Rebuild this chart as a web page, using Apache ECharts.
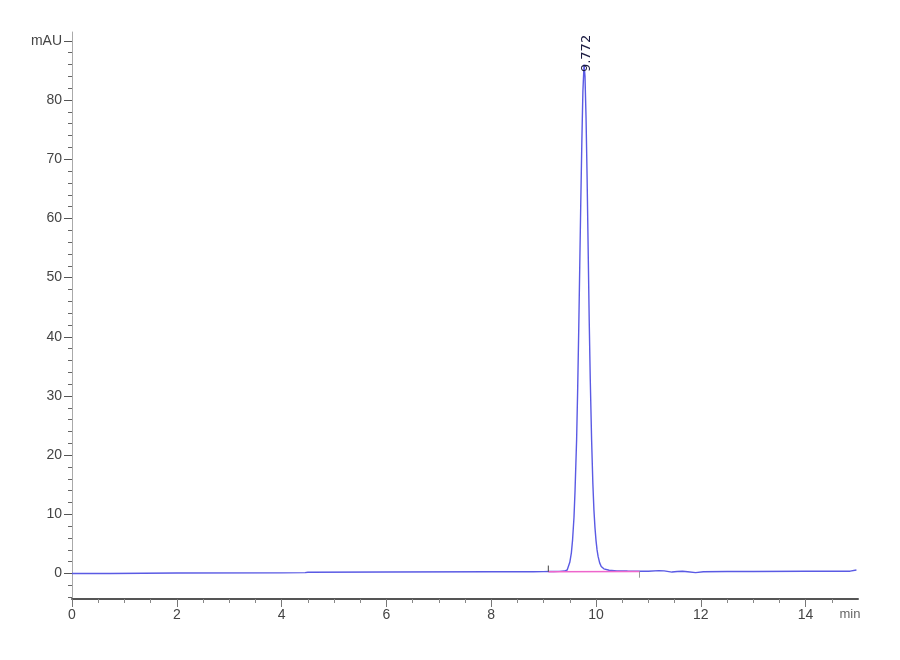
<!DOCTYPE html>
<html><head><meta charset="utf-8">
<script src="https://cdn.jsdelivr.net/npm/echarts@6/dist/echarts.min.js"></script>
<style>html,body{margin:0;padding:0;background:#fff}#c{width:900px;height:660px}</style>
</head><body><div id="c"></div>
<script>
// Chromatogram trace (time in min, signal in mAU)
var times  = [0,0.73,0.76,2,4,4.45,4.5,6,8,8.8,9.0,9.1,9.2,9.3,9.4,9.45,9.5,9.53,9.553,9.58,9.6,9.63,9.65,9.67,9.69,9.71,9.73,9.75,9.772,9.79,9.81,9.83,9.85,9.87,9.89,9.916,9.94,9.96,9.98,10.0,10.02,10.04,10.07,10.1,10.15,10.25,10.4,10.6,10.83,11.0,11.2,11.3,11.45,11.55,11.65,11.75,11.9,12.05,12.5,13,14,14.85,14.97];
var signal = [0,0,0.1,0.1,0.12,0.15,0.22,0.25,0.3,0.3,0.33,0.34,0.35,0.37,0.42,0.6,1.9,3.5,5.7,9.5,14,22.6,31,41,52,63,73,81.5,86,84,77,67,55,43,33,22.6,15.2,10.8,7.8,5.6,4.0,2.9,1.8,1.2,0.8,0.55,0.45,0.42,0.4,0.38,0.5,0.45,0.25,0.35,0.4,0.3,0.15,0.3,0.35,0.35,0.38,0.4,0.6];
// integration baseline (start / end)
var baseTimes  = [9.09, 10.83];
var baseValues = [0.3, 0.33];
// integration event marks
var startMark = [[9.09, 0.3], [9.09, 1.35]];
var endMark   = [[10.83, 0.33], [10.83, -0.7]];
// peak annotation
var peakTime = 9.772, peakHeight = 86, peakLabel = '9.772';
// axes ticks
var xMajor = [0,2,4,6,8,10,12,14];
var xMinor = [0.5,1,1.5,2.5,3,3.5,4.5,5,5.5,6.5,7,7.5,8.5,9,9.5,10.5,11,11.5,12.5,13,13.5,14.5];
var yMajor = [0,10,20,30,40,50,60,70,80,90];
var yMinor = [-4,-2,2,4,6,8,12,14,16,18,22,24,26,28,32,34,36,38,42,44,46,48,52,54,56,58,62,64,66,68,72,74,76,78,82,84,86,88];
var xUnit = 'min', yUnit = 'mAU';

var trace = times.map(function(t,i){return [t, signal[i]];});
var baseline = baseTimes.map(function(t,i){return [t, baseValues[i]];});

var FONT = '"Liberation Sans Narrow","Liberation Sans",sans-serif';
var chart = echarts.init(document.getElementById('c'), null, {renderer:'canvas'});
var xmin=0, xmax=15, ymin=-4.3, ymax=91.5;
chart.setOption({
  animation:false,
  backgroundColor:'#fff',
  grid:{left:72,right:42,top:32,bottom:61},
  xAxis:[{
    type:'value', min:xmin, max:xmax, position:'bottom',
    axisLine:{show:true,onZero:false,lineStyle:{color:'#555',width:2}},
    axisTick:{show:true,customValues:xMajor,length:8,lineStyle:{color:'#777',width:1}},
    axisLabel:{show:true,customValues:xMajor.concat([xmax]),margin:9,color:'#444',fontFamily:FONT,fontSize:14,
      formatter:function(v){return v===xmax?'{m|'+xUnit+'}':String(v);},
      rich:{m:{color:'#666',fontFamily:FONT,fontSize:13,padding:[0,16,0,0]}}},
    splitLine:{show:false}
  },{
    type:'value', min:xmin, max:xmax, position:'bottom', offset:0,
    axisLine:{show:false,onZero:false},
    axisTick:{show:true,customValues:xMinor,length:4,lineStyle:{color:'#888',width:1}},
    axisLabel:{show:false},
    splitLine:{show:false}
  }],
  yAxis:[{
    type:'value', min:ymin, max:ymax, position:'left',
    axisLine:{show:true,onZero:false,lineStyle:{color:'#aaa',width:1}},
    axisTick:{show:true,customValues:yMajor,length:8,lineStyle:{color:'#555',width:1}},
    axisLabel:{show:true,customValues:yMajor,margin:10,color:'#444',fontFamily:FONT,fontSize:14,
      formatter:function(v){return v===90?yUnit:String(v);}},
    splitLine:{show:false}
  },{
    type:'value', min:ymin, max:ymax, position:'left', offset:0,
    axisLine:{show:false,onZero:false},
    axisTick:{show:true,customValues:yMinor,length:4,lineStyle:{color:'#666',width:1}},
    axisLabel:{show:false},
    splitLine:{show:false}
  }],
  series:[
    {type:'line', data:trace, xAxisIndex:0,yAxisIndex:0, symbol:'none', lineStyle:{color:'#5a5ae4',width:1.4}, z:3},
    {type:'line', data:baseline, xAxisIndex:0,yAxisIndex:0, symbol:'none', lineStyle:{color:'#ee66cc',width:1.5}, z:4},
    {type:'line', data:startMark, xAxisIndex:0,yAxisIndex:0, symbol:'none', lineStyle:{color:'#444',width:1}, z:5},
    {type:'line', data:endMark, xAxisIndex:0,yAxisIndex:0, symbol:'none', lineStyle:{color:'#999',width:1}, z:5},
    {type:'scatter', data:[[peakTime,peakHeight]], xAxisIndex:0,yAxisIndex:0, symbolSize:1, itemStyle:{color:'rgba(0,0,0,0)'}, z:6,
      label:{show:true, formatter:peakLabel, rotate:90, position:[0,0], offset:[-8,3], align:'left', verticalAlign:'middle',
        fontFamily:'"DejaVu Sans",sans-serif', fontSize:13, color:'#1a1a40', opacity:1}}
  ]
});
</script></body></html>
